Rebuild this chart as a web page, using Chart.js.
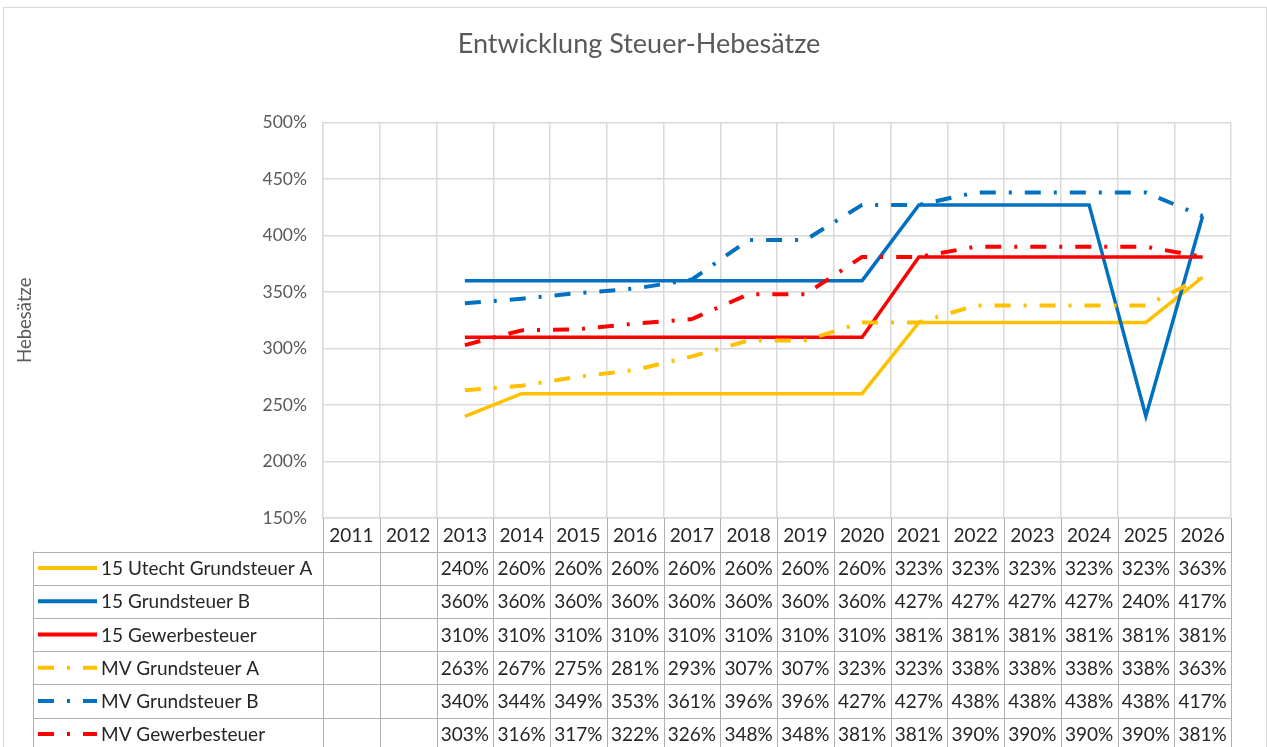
<!DOCTYPE html>
<html>
<head>
<meta charset="utf-8">
<title>Entwicklung Steuer-Hebesätze</title>
<script src="https://cdn.jsdelivr.net/npm/chart.js@4.4.0/dist/chart.umd.min.js"></script>
<style>
  html, body { margin: 0; padding: 0; background: #fff; }
</style>
</head>
<body>
<canvas id="hebesaetze" width="1267" height="747"></canvas>
<script>
var years = ['2011', '2012', '2013', '2014', '2015', '2016', '2017', '2018',
             '2019', '2020', '2021', '2022', '2023', '2024', '2025', '2026'];

var utechtGrundA  = [null, null, 240, 260, 260, 260, 260, 260, 260, 260, 323, 323, 323, 323, 323, 363];
var utechtGrundB  = [null, null, 360, 360, 360, 360, 360, 360, 360, 360, 427, 427, 427, 427, 240, 417];
var utechtGewerbe = [null, null, 310, 310, 310, 310, 310, 310, 310, 310, 381, 381, 381, 381, 381, 381];
var mvGrundA      = [null, null, 263, 267, 275, 281, 293, 307, 307, 323, 323, 338, 338, 338, 338, 363];
var mvGrundB      = [null, null, 340, 344, 349, 353, 361, 396, 396, 427, 427, 438, 438, 438, 438, 417];
var mvGewerbe     = [null, null, 303, 316, 317, 322, 326, 348, 348, 381, 381, 390, 390, 390, 390, 381];

var seriesNames = ['15 Utecht Grundsteuer A', '15 Grundsteuer B', '15 Gewerbesteuer',
                   'MV Grundsteuer A', 'MV Grundsteuer B', 'MV Gewerbesteuer'];

var yMin = 150, yMax = 500, yStep = 50;

var FONT = 'Lato, Carlito, Calibri, sans-serif';
var dashDot = [16, 13, 3, 13];

function line(label, data, color, dash, idx) {
    return {
        label: label,
        data: data,
        borderColor: color,
        backgroundColor: color,
        borderWidth: dash ? 4 : 3.5,
        borderDash: dash || [],
        pointRadius: 0,
        tension: 0,
        fill: false,
        order: 5 - idx
    };
}

// whole-chart frame like the Excel chart area
var framePlugin = {
    id: 'frame',
    beforeDraw: function (chart) {
        var ctx = chart.ctx;
        ctx.save();
        ctx.fillStyle = '#fff';
        ctx.fillRect(0, 0, chart.width, chart.height);
        ctx.strokeStyle = '#d9d9d9';
        ctx.lineWidth = 1;
        ctx.strokeRect(3.5, 7.5, chart.width - 4, chart.height);
        ctx.restore();
    }
};

// data table under the plot
var tablePlugin = {
    id: 'dataTable',
    afterDraw: function (chart) {
        var ctx = chart.ctx;
        var xs = chart.scales.x;
        var area = chart.chartArea;
        var top = area.bottom;
        var headH = 33.5;
        var rowH = 33.2;
        var labelLeft = 33;
        var half = (xs.getPixelForValue(1) - xs.getPixelForValue(0)) / 2;
        var bottom = chart.height;

        ctx.save();
        ctx.strokeStyle = '#b0b0b0';
        ctx.lineWidth = 1;

        // column lines
        for (var i = 0; i <= years.length; i++) {
            var bx = Math.round(xs.getPixelForValue(0) - half + i * 2 * half) + 0.5;
            ctx.beginPath();
            ctx.moveTo(bx, top);
            ctx.lineTo(bx, bottom);
            ctx.stroke();
        }
        // label column left edge
        ctx.beginPath();
        ctx.moveTo(labelLeft + 0.5, top + headH);
        ctx.lineTo(labelLeft + 0.5, bottom);
        ctx.stroke();

        // row lines
        for (var r = 0; r < seriesNames.length; r++) {
            var ly = Math.round(top + headH + r * rowH) + 0.5;
            ctx.beginPath();
            ctx.moveTo(labelLeft, ly);
            ctx.lineTo(area.right, ly);
            ctx.stroke();
        }

        ctx.fillStyle = '#262626';
        ctx.font = '19px ' + FONT;
        ctx.textAlign = 'center';
        ctx.textBaseline = 'middle';

        // header
        years.forEach(function (y, i) {
            ctx.fillText(y, xs.getPixelForValue(i), top + headH / 2 + 1);
        });

        // rows
        chart.data.datasets.forEach(function (ds, r) {
            var cy = top + headH + r * rowH + rowH / 2 + 1;
            ctx.textAlign = 'center';
            ds.data.forEach(function (v, i) {
                if (v === null) return;
                ctx.fillText(v + '%', xs.getPixelForValue(i), cy);
            });

            // legend key
            ctx.save();
            ctx.strokeStyle = ds.borderColor;
            ctx.lineWidth = 4;
            ctx.setLineDash(ds.borderDash);
            ctx.beginPath();
            ctx.moveTo(38, cy - 1);
            ctx.lineTo(97, cy - 1);
            ctx.stroke();
            ctx.restore();

            ctx.textAlign = 'left';
            ctx.fillText(ds.label, 101, cy);
        });
        ctx.restore();
    }
};

var chart = new Chart(document.getElementById('hebesaetze'), {
    type: 'line',
    data: {
        labels: years,
        datasets: [
            line(seriesNames[0], utechtGrundA, '#FFC000', null, 0),
            line(seriesNames[1], utechtGrundB, '#0070C0', null, 1),
            line(seriesNames[2], utechtGewerbe, '#FF0000', null, 2),
            line(seriesNames[3], mvGrundA, '#FFC000', dashDot, 3),
            line(seriesNames[4], mvGrundB, '#0070C0', dashDot, 4),
            line(seriesNames[5], mvGewerbe, '#FF0000', dashDot, 5)
        ]
    },
    options: {
        responsive: false,
        animation: false,
        devicePixelRatio: 1,
        layout: {
            padding: { left: 11, right: 0, top: 0, bottom: 0 }
        },
        plugins: {
            legend: { display: false },
            tooltip: { enabled: false },
            title: {
                display: true,
                text: 'Entwicklung Steuer-Hebesätze',
                color: '#595959',
                font: { family: FONT, size: 27, weight: 'normal' },
                padding: { top: 28, bottom: 62 }
            }
        },
        scales: {
            x: {
                offset: true,
                grid: {
                    offset: true,
                    color: '#d9d9d9',
                    lineWidth: 1.5,
                    drawTicks: false
                },
                border: { color: '#d9d9d9', width: 1.5 },
                ticks: { display: false },
                afterFit: function (scale) { scale.height = 229; }
            },
            y: {
                min: yMin,
                max: yMax,
                grid: {
                    color: '#d9d9d9',
                    lineWidth: 1.5,
                    drawTicks: false
                },
                border: { color: '#d9d9d9', width: 1.5 },
                ticks: {
                    stepSize: yStep,
                    padding: 16,
                    color: '#595959',
                    font: { family: FONT, size: 17.5 },
                    callback: function (v) { return v + '%'; }
                },
                title: {
                    display: true,
                    text: 'Hebesätze',
                    color: '#595959',
                    font: { family: FONT, size: 18.5 },
                    padding: { top: 3, bottom: 0 }
                },
                afterFit: function (scale) { scale.width = 312; }
            },
            // empty right gutter so the title centres like the original
            gutter: {
                position: 'right',
                grid: { display: false },
                border: { display: false },
                ticks: { display: false },
                afterFit: function (scale) { scale.width = 36; }
            }
        }
    },
    plugins: [framePlugin, tablePlugin]
});
</script>
</body>
</html>
